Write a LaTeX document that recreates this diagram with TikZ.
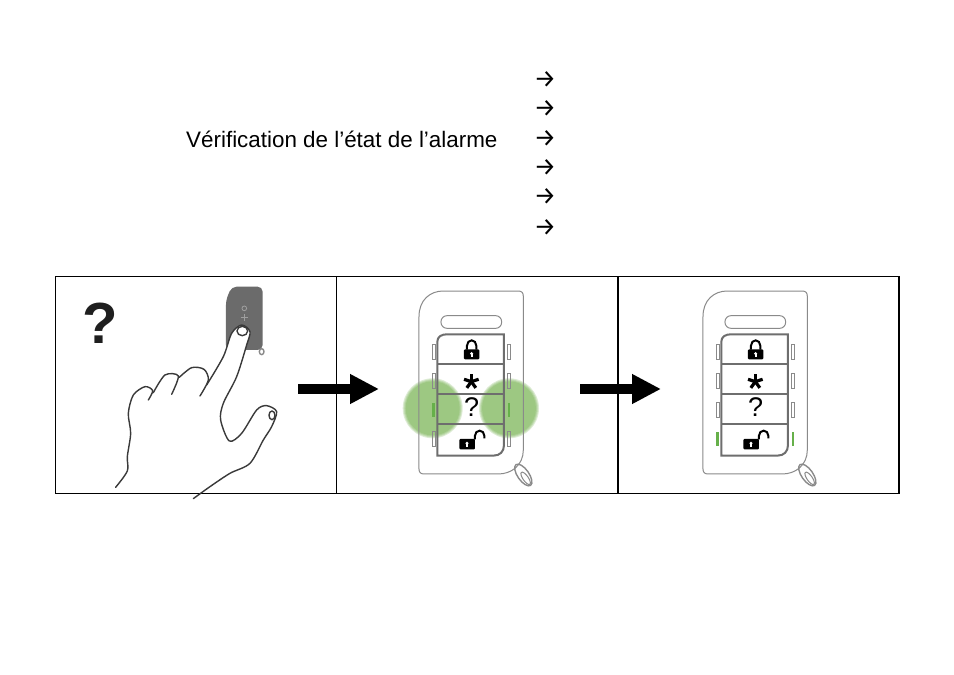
\documentclass[tikz,border=0pt]{standalone}
\usepackage{fontspec}
\setmainfont{Liberation Sans}
\newfontfamily\arrowfont{Fira Sans}
\usetikzlibrary{arrows.meta,calc,positioning}
\definecolor{fobgray}{HTML}{8A8A8A}
\definecolor{padgray}{HTML}{6E6E6E}
\definecolor{fobdark}{HTML}{6B6B6B}
\definecolor{ledgreen}{HTML}{66B04A}
\definecolor{glowgreen}{HTML}{5BA42D}
\definecolor{handgray}{HTML}{3A3A3A}
\tikzset{
	listarrow/.style={font=\arrowfont\fontsize{25}{25}\selectfont,inner sep=0pt},
	bigarrow/.style={line width=10pt,-{Triangle[length=29pt,width=28pt]}},
	handline/.style={handgray,line width=1.4pt,line join=round,line cap=round},
}
% one remote, drawn in the px of a 3x crop; #1 = shift, #2 = scale, #3 = lit row
\newcommand{\keyfob}[3]{
	\begin{scope}[shift={(#1)},x=#2pt,y=-#2pt]
		\draw[fobgray,line width=1pt] (237,125) .. controls (237,75) and (270,48) .. (310,48) -- (535,48) .. controls (546,48) and (550,54) .. (550,64) -- (550,525) .. controls (550,570) and (515,597) .. (475,597) -- (252,597) .. controls (242,597) and (237,592) .. (237,582) -- cycle;
		\draw[fobgray,line width=1pt,rounded corners=18*#2pt] (303,122) rectangle (485,160);
		\draw[padgray,line width=2pt] (292,200) .. controls (292,185) and (305,178) .. (320,178) -- (492,178) -- (492,510) .. controls (492,530) and (480,542) .. (460,542) -- (292,542) -- cycle;
		\foreach \rowy in {268,358,448}
			\draw[padgray,line width=1.8pt] (292,\rowy) -- (492,\rowy);
		% side lights
		\foreach \rowy [count=\rownum] in {208,295,383,470} {
			\ifnum\rownum=#3
				\fill[ledgreen] (277,\rowy+2) rectangle (284,\rowy+42);
				\fill[ledgreen] (503,\rowy+2) rectangle (510,\rowy+42);
			\else
				\draw[fobgray,line width=.7pt] (276,\rowy) rectangle (287,\rowy+44);
				\draw[fobgray,line width=.7pt] (501,\rowy) rectangle (512,\rowy+44);
			\fi
		}
		% closed lock
		\fill[black,rounded corners=1pt] (372,223) rectangle (418,253);
		\draw[black,line width=2pt] (381,224) -- (381,212) arc[start angle=180,end angle=360,x radius=14,y radius=16] -- (409,224);
		\fill[white] (395,236) circle[radius=5];
		\fill[white] (392,236) rectangle (398,247);
		% star
		\foreach \armangle in {90,162,234,306,18}
			\draw[black,line width=3.2pt] (394,320) -- +({\armangle}:-23);
		\node[inner sep=0pt,font=\fontsize{27}{27}\selectfont] (q#3) at (395,396) {?};
		% open lock
		\fill[black,rounded corners=1pt] (358,492) rectangle (405,523);
		\draw[black,line width=2pt] (405,493) -- (405,482) arc[start angle=180,end angle=360,x radius=14,y radius=15] -- (433,490);
		\fill[white] (381,505) circle[radius=5];
		\fill[white] (378,505) rectangle (384,516);
		% key ring
		\draw[fobgray,line width=1.4pt,rotate around={-55:(550,600)}] (550,600) ellipse[x radius=38,y radius=17];
		\draw[fobgray,line width=1pt,rotate around={-55:(557,610)}] (557,610) ellipse[x radius=22,y radius=8];
	\end{scope}
}
\begin{document}
\begin{tikzpicture}[x=1pt,y=-1pt]
	\useasboundingbox (0,0) rectangle (954,675);
	\fill[white] (0,0) rectangle (954,675);

	% heading and list arrows
	\node[anchor=base west,inner sep=0pt,font=\fontsize{22.4}{26}\selectfont] (title) at (186,147) {Vérification de l’état de l’alarme};
	\foreach \listy [count=\listnum] in {80,109,139,168,197,228}
		\node[listarrow] (arrow\listnum) at (545,\listy) {→};

	% frame and dividers
	\node[draw,line width=1.6pt,outer sep=0pt,anchor=north west,inner sep=0pt,minimum width=843.5pt,minimum height=217pt] (frame) at (55.5,276.5) {};
	\coordinate (diva) at (336.5,276);
	\coordinate (divb) at (618,276);
	\draw[line width=.9pt] (diva) -- (diva |- frame.south);
	\draw[line width=1.4pt] (divb) -- (divb |- frame.south);

	% first panel
	\node[inner sep=0pt,text=black!88,font=\bfseries\fontsize{58}{58}\selectfont] (bigq) at (100,323) {?};
	\begin{scope}[shift={(50,270)},x=.3333pt,y=-.3333pt]
		\fill[fobdark,rounded corners=5pt] (528,90) -- (545,50) -- (638,50) -- (638,240) -- (528,240) -- cycle;
		\draw[fobgray,line width=1.4pt] (635,245) ellipse[x radius=7,y radius=9];
		\draw[white!35!fobdark,line width=.8pt] (572,142) -- (594,142) (583,132) -- (583,152);
		\draw[white!35!fobdark,line width=.8pt] (583,115) circle[radius=7];
		\fill[white] plot[smooth cycle] coordinates {(470,345) (520,260) (545,190) (575,165) (600,185) (590,225) (560,320) (520,400) (450,400)};
		\draw[handline] plot[smooth] coordinates {(197,652) (232,603) (232,560) (242,490) (235,430) (250,375) (285,350) (308,362) (295,390)};
		\draw[handline] plot[smooth] coordinates {(310,368) (345,315) (385,318) (365,373)};
		\draw[handline] plot[smooth] coordinates {(388,322) (425,293) (462,298) (475,330) (450,378)};
		\draw[handline] plot[smooth] coordinates {(470,345) (520,260) (545,190) (575,165) (600,185) (590,225) (560,320) (520,400) (512,450) (538,513) (575,490) (620,420) (650,407) (680,425) (665,470) (640,510) (600,580) (540,610) (480,650) (430,686)};
		\draw[handline] (577,183) ellipse[x radius=16,y radius=14];
		\draw[handline] (666,436) ellipse[x radius=9,y radius=13];
	\end{scope}

	% glow and remotes
	\foreach \glowr in {30,29,28,27} {
		\fill[glowgreen,opacity=.2] (432.7,408.3) circle[radius=\glowr];
		\fill[glowgreen,opacity=.2] (509,408.3) circle[radius=\glowr];
	}
	\keyfob{340,275}{.3333}{3}
	\keyfob{624,275}{.3333}{4}

	% big arrows
	\coordinate (arrowastart) at (298,389);
	\coordinate (arrowaend) at (379,389);
	\coordinate (arrowbstart) at (580,389);
	\coordinate (arrowbend) at (661,389);
	\draw[bigarrow] (arrowastart) -- (arrowaend);
	\draw[bigarrow] (arrowbstart) -- (arrowbend);
\end{tikzpicture}
\end{document}
